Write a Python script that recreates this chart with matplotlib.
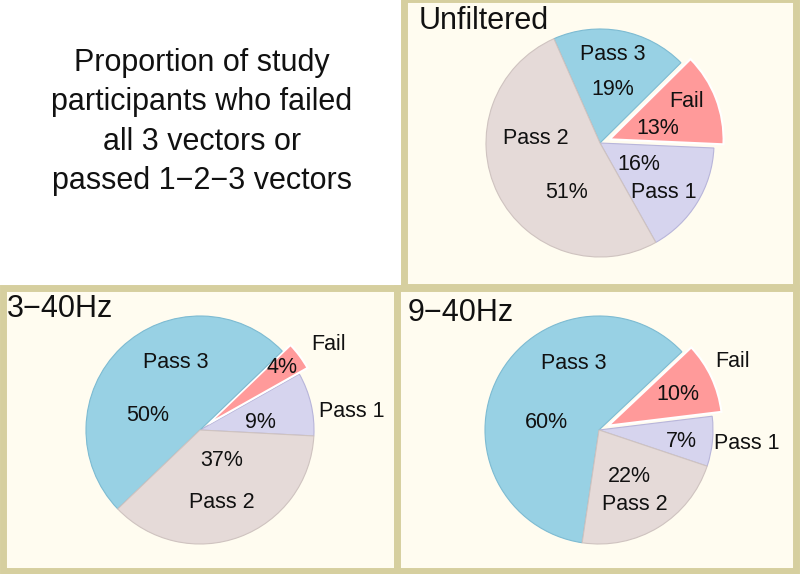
import matplotlib
matplotlib.use("Agg")
import matplotlib.pyplot as plt
from matplotlib.patches import Rectangle

plt.rcParams['font.family'] = ['Liberation Sans', 'DejaVu Sans']

# ---- data ----
categories = ["Pass 1", "Fail", "Pass 3", "Pass 2"]
unfiltered = [16, 13, 19, 51]
hz3_40 = [9, 4, 50, 37]
hz9_40 = [7, 10, 60, 22]
panel_titles = ["Unfiltered", "3\u221240Hz", "9\u221240Hz"]
main_title = ("Proportion of study\nparticipants who failed\n"
              "all 3 vectors or\npassed 1\u22122\u22123 vectors")

# ---- styles ----
colors = ["#D6D4EE", "#FF9A9A", "#98D1E4", "#E5DAD8"]
edgecolors = ["#B8B5DA", "#F08080", "#7DBBD2", "#CFC3C0"]
explode = [0, 0.09, 0, 0]
border_col = "#D6CF9F"
panel_bg = "#FFFCF0"

W, H = 800, 574
fig = plt.figure(figsize=(W / 100, H / 100), dpi=100)
fig.patch.set_facecolor("white")

def px_rect(x0, y0_top, x1, y1_top):
    return (x0 / W, 1 - y1_top / H), (x1 - x0) / W, (y1_top - y0_top) / H

for (x0, y0, x1, y1) in [(403.5, -1, 796, 287), (2.5, 288, 396.5, 571), (396.5, 288, 796, 571)]:
    xy, w, h = px_rect(x0, y0, x1, y1)
    fig.patches.append(Rectangle(xy, w, h, transform=fig.transFigure,
                                 facecolor=panel_bg, edgecolor=border_col,
                                 linewidth=5.0, zorder=-5))

layouts = [
    {"labels": [(0.56, -0.43), (0.76, 0.36), (0.11, 0.78), (-0.56, 0.04)],
     "pcts":   [(0.34, -0.19), (0.51, 0.13), (0.11, 0.47), (-0.29, -0.43)]},
    {"labels": [(1.33, 0.16), (1.13, 0.75), (-0.21, 0.59), (0.19, -0.64)],
     "pcts":   [(0.53, 0.07), (0.72, 0.55), (-0.46, 0.13), (0.19, -0.27)]},
    {"labels": [(1.30, -0.12), (1.17, 0.60), (-0.22, 0.58), (0.31, -0.65)],
     "pcts":   [(0.72, -0.10), (0.69, 0.31), (-0.46, 0.07), (0.27, -0.41)]},
]
centers = [(600, 143), (200, 430), (599, 430)]
startangles = [-60.7, -3.0, -18.5]
radius_px = 114
series = [unfiltered, hz3_40, hz9_40]

k = 1.7
for vals, (cx, cy), sa, lay in zip(series, centers, startangles, layouts):
    left = (cx - k * radius_px) / W
    bottom = 1 - (cy + k * radius_px) / H
    ax = fig.add_axes([left, bottom, 2 * k * radius_px / W, 2 * k * radius_px / H])
    ax.set_facecolor("none")
    wedges, _ = ax.pie(vals, colors=colors, explode=explode, startangle=sa,
                       counterclock=True, radius=1,
                       wedgeprops=dict(linewidth=0.8))
    for w_, ec in zip(wedges, edgecolors):
        w_.set_edgecolor(ec)
    wedges[1].set_edgecolor("white")
    wedges[1].set_linewidth(1.5)
    ax.set_xlim(-k, k)
    ax.set_ylim(-k, k)
    ax.set_aspect("equal")
    ax.axis("off")
    for name, v, (lx, ly), (px_, py_) in zip(categories, vals, lay["labels"], lay["pcts"]):
        ax.text(lx, ly, name, ha="center", va="center", fontsize=15.5, color="#111111")
        ax.text(px_, py_, f"{v}%", ha="center", va="center", fontsize=15.5, color="#111111")

title_pos = [(419, 29), (7, 317), (408, 321)]
for t, (tx, ty) in zip(panel_titles, title_pos):
    fig.text(tx / W, 1 - ty / H, t, ha="left", va="baseline", fontsize=22, color="#111111")

fig.text(202 / W, 1 - 122 / H, main_title, ha="center", va="center",
         fontsize=22, linespacing=1.42, color="#111111")

fig.savefig("out.png", dpi=100)
